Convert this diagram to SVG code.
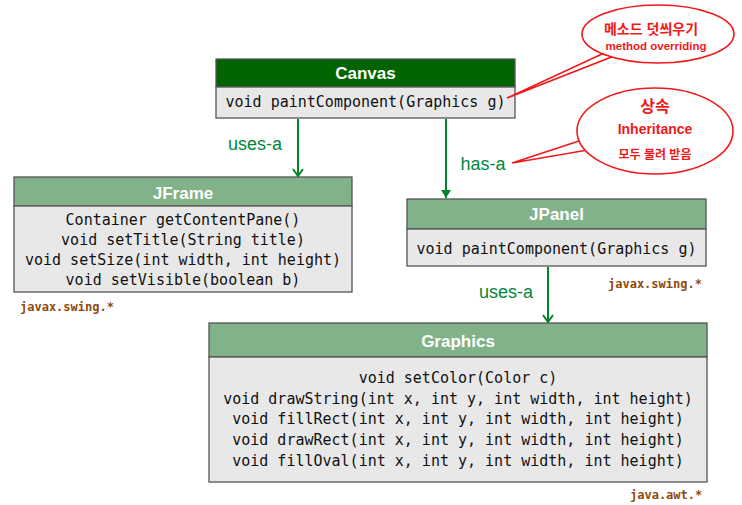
<svg xmlns="http://www.w3.org/2000/svg" width="742" height="505" viewBox="0 0 742 505">
<defs>
<style>
.box{fill:#e8e8e8;stroke:#555;stroke-width:1.3}
.hdr{fill:#82b28a;stroke:#555;stroke-width:1.3}
.hdrd{fill:#006400;stroke:#555;stroke-width:1.3}
.title{font-family:"Liberation Sans",Arial,sans-serif;font-weight:bold;font-size:17px;fill:#fff;text-anchor:middle}
.code{font-family:"DejaVu Sans Mono",monospace;font-size:15px;fill:#111;text-anchor:middle}
.pkg{font-family:"DejaVu Sans Mono",monospace;font-size:12px;font-weight:bold;fill:#8f4a0e}
.lbl{font-family:"Liberation Sans",Arial,sans-serif;font-size:18px;fill:#00873c;text-anchor:middle}
.conn{stroke:#00852a;stroke-width:2;fill:none}
.call{fill:#fff;stroke:#f01818;stroke-width:1.6}
.ct{font-family:"Liberation Sans","Noto Sans CJK KR",Arial,sans-serif;font-weight:bold;fill:#f01818;text-anchor:middle}
</style>
<marker id="open" markerWidth="12" markerHeight="12" refX="10" refY="6" orient="auto" markerUnits="userSpaceOnUse" viewBox="0 0 12 12">
<path d="M3,1 L10,6 L3,11" fill="none" stroke="#00852a" stroke-width="2"/>
</marker>
<marker id="fill" markerWidth="12" markerHeight="12" refX="10" refY="6" orient="auto" markerUnits="userSpaceOnUse" viewBox="0 0 12 12">
<path d="M2,1 L10,6 L2,11 Z" fill="#00852a"/>
</marker>
</defs>
<rect width="742" height="505" fill="#fff"/>
<g id="connectors">
<line class="conn" x1="298" y1="119" x2="298" y2="176" marker-end="url(#open)"/>
<line class="conn" x1="446" y1="119" x2="446" y2="198" marker-end="url(#fill)"/>
<line class="conn" x1="548" y1="267" x2="548" y2="322" marker-end="url(#open)"/>
<text class="lbl" x="255" y="150">uses-a</text>
<text class="lbl" x="483" y="170">has-a</text>
<text class="lbl" x="506" y="298">uses-a</text>
</g>
<g id="canvas">
<rect class="hdrd" x="216" y="59" width="299" height="28"/>
<rect class="box" x="216" y="87" width="299" height="31"/>
<text class="title" x="365.5" y="79">Canvas</text>
<text class="code" x="365.5" y="107">void paintComponent(Graphics g)</text>
</g>
<g id="jframe">
<rect class="hdr" x="14" y="177" width="338" height="29"/>
<rect class="box" x="14" y="206" width="338" height="86"/>
<text class="title" x="183" y="199">JFrame</text>
<text class="code" x="183" y="225">Container getContentPane()</text>
<text class="code" x="183" y="245">void setTitle(String title)</text>
<text class="code" x="183" y="265">void setSize(int width, int height)</text>
<text class="code" x="183" y="285">void setVisible(boolean b)</text>
<text class="pkg" x="20" y="311">javax.swing.*</text>
</g>
<g id="jpanel">
<rect class="hdr" x="407" y="199" width="299" height="30"/>
<rect class="box" x="407" y="229" width="299" height="37"/>
<text class="title" x="556.5" y="220">JPanel</text>
<text class="code" x="556.5" y="254">void paintComponent(Graphics g)</text>
<text class="pkg" x="608" y="288">javax.swing.*</text>
</g>
<g id="graphics">
<rect class="hdr" x="209" y="323" width="498" height="34"/>
<rect class="box" x="209" y="357" width="498" height="125"/>
<text class="title" x="458" y="347">Graphics</text>
<text class="code" x="458" y="383">void setColor(Color c)</text>
<text class="code" x="458" y="404">void drawString(int x, int y, int width, int height)</text>
<text class="code" x="458" y="424">void fillRect(int x, int y, int width, int height)</text>
<text class="code" x="458" y="445">void drawRect(int x, int y, int width, int height)</text>
<text class="code" x="458" y="466">void fillOval(int x, int y, int width, int height)</text>
<text class="pkg" x="630" y="499">java.awt.*</text>
</g>
<g id="callout-override">
<polygon class="call" points="602,54 507,98 614,56"/>
<ellipse class="call" cx="658" cy="34" rx="76" ry="29"/>
<text class="ct" x="651" y="34" font-size="14">메소드 덧씌우기</text>
<text class="ct" x="656" y="50" font-size="11.5">method overriding</text>
</g>
<g id="callout-inherit">
<polygon class="call" points="582,140 512,163 588,150"/>
<ellipse class="call" cx="655" cy="131" rx="78" ry="43"/>
<text class="ct" x="655" y="112" font-size="16">상속</text>
<text class="ct" x="655" y="134" font-size="14">Inheritance</text>
<text class="ct" x="655" y="159" font-size="12">모두 물려 받음</text>
</g>
</svg>
